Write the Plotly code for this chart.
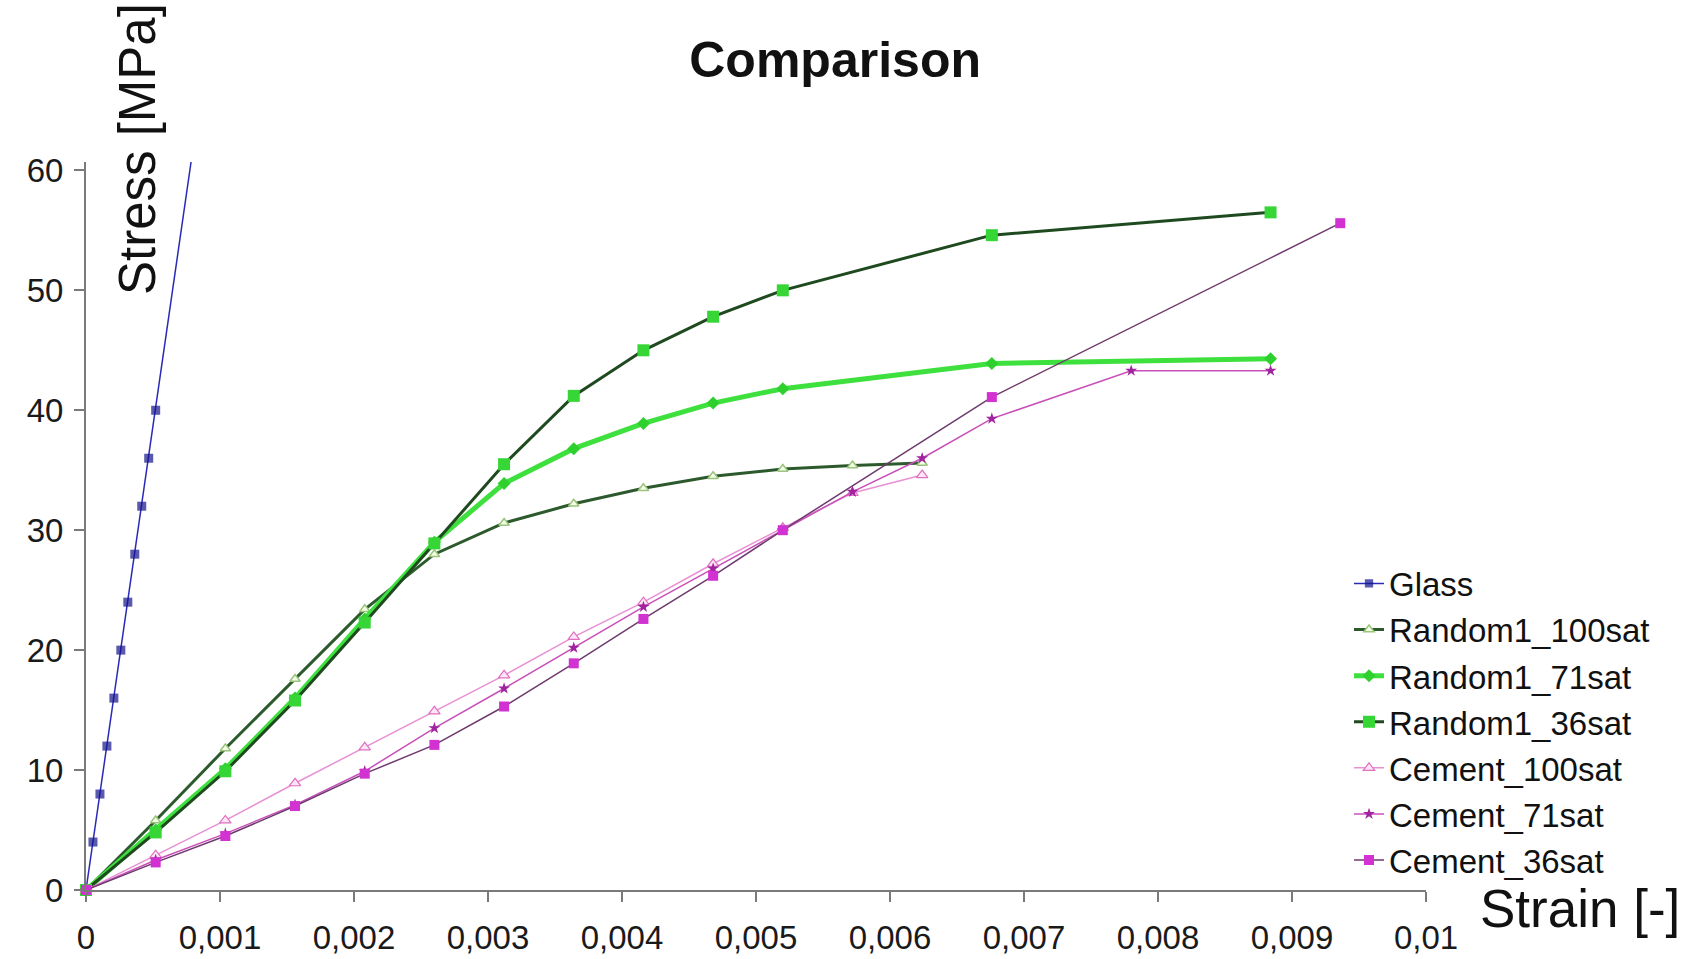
import plotly.graph_objects as go

# ---------------- data ----------------
glass_x = [0, 0.000052, 0.000104, 0.000156, 0.000208, 0.00026, 0.000312, 0.000364, 0.000416, 0.000468, 0.00052, 0.000784]
glass_y = [0, 4.0, 8.0, 12.0, 16.0, 20.0, 24.0, 28.0, 32.0, 36.0, 40.0, 60.7]

r100_x = [0, 0.00052, 0.00104, 0.00156, 0.00208, 0.0026, 0.00312, 0.00364, 0.00416, 0.00468, 0.0052, 0.00572, 0.00624]
r100_y = [0, 5.8, 11.8, 17.6, 23.4, 28.0, 30.6, 32.2, 33.5, 34.5, 35.1, 35.4, 35.6]

r71_x = [0, 0.00052, 0.00104, 0.00156, 0.00208, 0.0026, 0.00312, 0.00364, 0.00416, 0.00468, 0.0052, 0.00676, 0.00884]
r71_y = [0, 5.0, 10.1, 16.0, 22.6, 29.0, 33.9, 36.8, 38.9, 40.6, 41.8, 43.9, 44.3]

r36_x = [0, 0.00052, 0.00104, 0.00156, 0.00208, 0.0026, 0.00312, 0.00364, 0.00416, 0.00468, 0.0052, 0.00676, 0.00884]
r36_y = [0, 4.8, 9.9, 15.8, 22.3, 28.9, 35.5, 41.2, 45.0, 47.8, 50.0, 54.6, 56.5]

c100_x = [0, 0.00052, 0.00104, 0.00156, 0.00208, 0.0026, 0.00312, 0.00364, 0.00416, 0.00468, 0.0052, 0.00572, 0.00624]
c100_y = [0, 2.9, 5.8, 8.9, 11.9, 14.9, 17.9, 21.1, 24.0, 27.2, 30.2, 33.1, 34.6]

c71_x = [0, 0.00052, 0.00104, 0.00156, 0.00208, 0.0026, 0.00312, 0.00364, 0.00416, 0.00468, 0.0052, 0.00572, 0.00624, 0.00676, 0.0078, 0.00884]
c71_y = [0, 2.5, 4.7, 7.1, 9.9, 13.5, 16.8, 20.2, 23.6, 26.8, 30.0, 33.2, 36.0, 39.3, 43.3, 43.3]

c36_x = [0, 0.00052, 0.00104, 0.00156, 0.00208, 0.0026, 0.00312, 0.00364, 0.00416, 0.00468, 0.0052, 0.00676, 0.00936]
c36_y = [0, 2.3, 4.5, 7.0, 9.7, 12.1, 15.3, 18.9, 22.6, 26.2, 30.0, 41.1, 55.6]

x_tickvals = [0, 0.001, 0.002, 0.003, 0.004, 0.005, 0.006, 0.007, 0.008, 0.009, 0.01]
y_tickvals = [0, 10, 20, 30, 40, 50, 60]

# ---------------- figure ----------------
FONT = "Arial, Liberation Sans, Helvetica, sans-serif"

fig = go.Figure()

glass_sizes = [9] * (len(glass_x) - 1) + [0]
fig.add_trace(go.Scatter(
    x=glass_x, y=glass_y, name="Glass", mode="lines+markers", legendgroup="g1",
    line=dict(color="#2a2ab8", width=1.5),
    marker=dict(symbol="square", size=glass_sizes, color="#12128c", line=dict(width=0)),
    cliponaxis=False))

fig.add_trace(go.Scatter(
    x=r100_x, y=r100_y, name="Random1_100sat", mode="lines+markers", legendgroup="g2",
    line=dict(color="#2c5a2c", width=3),
    marker=dict(symbol="triangle-up", size=9, color="#f4ffe8", line=dict(color="#9cc47c", width=1.5)),
    cliponaxis=False))

fig.add_trace(go.Scatter(
    x=r71_x, y=r71_y, name="Random1_71sat", mode="lines+markers", legendgroup="g3",
    line=dict(color="#3ee03e", width=5),
    marker=dict(symbol="diamond", size=10, color="#2ed02e"),
    cliponaxis=False))

fig.add_trace(go.Scatter(
    x=r36_x, y=r36_y, name="Random1_36sat", mode="lines+markers", legendgroup="g4",
    line=dict(color="#1f4a1f", width=3),
    marker=dict(symbol="square", size=12, color="#36d636", line=dict(width=0)),
    cliponaxis=False))

fig.add_trace(go.Scatter(
    x=c100_x, y=c100_y, name="Cement_100sat", mode="lines+markers", legendgroup="g5",
    line=dict(color="#e890d4", width=1.5),
    marker=dict(symbol="triangle-up", size=10, color="#fde6f6", line=dict(color="#e070c0", width=1.2)),
    cliponaxis=False))

fig.add_trace(go.Scatter(
    x=c71_x, y=c71_y, name="Cement_71sat", mode="lines+markers", legendgroup="g6",
    line=dict(color="#c850b8", width=1.5),
    marker=dict(symbol="star", size=9, color="#a024a0", line=dict(width=0)),
    cliponaxis=False))

fig.add_trace(go.Scatter(
    x=c36_x, y=c36_y, name="Cement_36sat", mode="lines+markers", legendgroup="g7",
    line=dict(color="#6e3a6e", width=1.5),
    marker=dict(symbol="square", size=10, color="#d232d2", line=dict(width=0)),
    cliponaxis=False))

axis_common = dict(
    showgrid=False, zeroline=False, showline=True, linecolor="#7a7a7a", linewidth=2,
    ticks="outside", ticklen=10, tickwidth=2, tickcolor="#7a7a7a",
    tickfont=dict(family=FONT, size=33, color="#1a1a1a"),
    automargin=False,
)

fig.update_xaxes(range=[0, 0.01], tickvals=x_tickvals, ticklabelstandoff=7, **axis_common)
fig.update_yaxes(range=[0, 60.7], tickvals=y_tickvals, ticklabelstandoff=4, **axis_common)

fig.update_layout(
    width=1695, height=959,
    margin=dict(l=86, r=269, t=162, b=69, autoexpand=False),
    paper_bgcolor="white", plot_bgcolor="white",
    separators=", ",
    font=dict(family=FONT, color="#111111"),
    title=dict(text="<b>Comparison</b>", font=dict(family=FONT, size=50, color="#111111"),
               x=0.4927, xanchor="center", y=1 - 59 / 959, yanchor="middle"),
    showlegend=True,
    legend=dict(
        x=(1349 - 86) / 1340, xanchor="left",
        y=(890 - 555.5) / 728, yanchor="top",
        font=dict(family=FONT, size=33, color="#111111"),
        bgcolor="rgba(255,255,255,0)", borderwidth=0,
        traceorder="grouped", tracegroupgap=0.2,
    ),
    annotations=[
        dict(text="Stress [MPa]", textangle=-90, xref="paper", yref="paper",
             x=(137 - 86) / 1340, y=(890 - 149) / 728, xanchor="center", yanchor="middle",
             showarrow=False, font=dict(family=FONT, size=51, color="#111111")),
        dict(text="Strain [-]", xref="paper", yref="paper",
             x=(1580 - 86) / 1340, y=(890 - 909) / 728, xanchor="center", yanchor="middle",
             showarrow=False, font=dict(family=FONT, size=53, color="#111111")),
    ],
)

fig.write_html("out.html")
